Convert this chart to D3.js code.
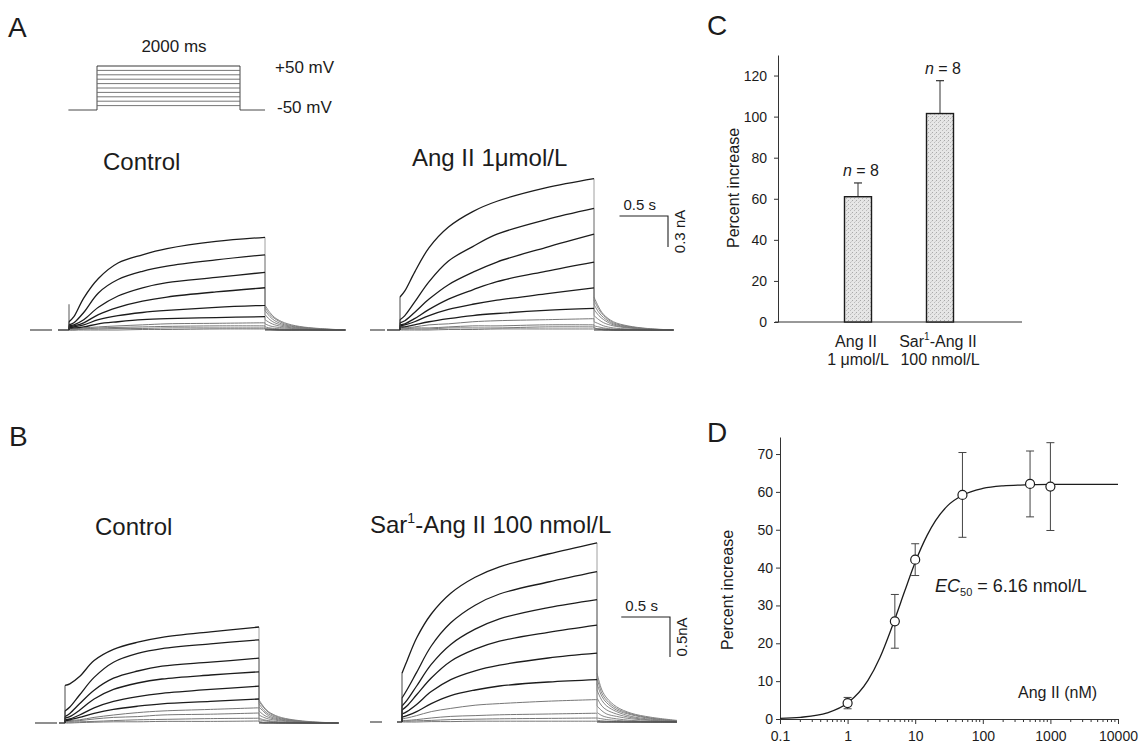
<!DOCTYPE html>
<html><head><meta charset="utf-8">
<script src="https://cdn.jsdelivr.net/npm/d3@7"></script>
<style>
body{margin:0;background:#fff}
svg{display:block}
text{font-family:"Liberation Sans",Arial,sans-serif;fill:#1c1c1c}
</style>
</head><body>
<svg id="fig" width="1139" height="745"></svg>
<script>
// ---------------- DATA ----------------
// Current traces: amplitude (nA) at these times (s) during the 2000 ms pulse
const traceTimes = [0, 0.05, 0.15, 0.3, 0.5, 0.75, 1.0, 1.5, 2.0];
// Tail currents: amplitude (nA) at these times (s) after the pulse
const tailTimes = [0, 0.05, 0.1, 0.2, 0.35, 0.55, 0.82];
const protocolLevels = [-40, -30, -20, -10, 0, 10, 20, 30, 40, 50]; // mV, from -50 mV
const protocolHold = -50;
const pulseDuration = 2.0; // s

const aControlSpike = 0.25; // capacitive transient at pulse onset (nA)
const aControlPulse = [
  [0.08,0.13,0.31,0.50,0.65,0.73,0.79,0.86,0.90],
  [0.05,0.07,0.17,0.36,0.49,0.57,0.62,0.68,0.73],
  [0.04,0.05,0.10,0.22,0.33,0.41,0.46,0.51,0.56],
  [0.03,0.04,0.07,0.15,0.22,0.28,0.32,0.37,0.41],
  [0.02,0.03,0.05,0.10,0.14,0.17,0.19,0.22,0.24],
  [0.02,0.02,0.03,0.06,0.08,0.10,0.11,0.12,0.13],
  [0.01,0.01,0.02,0.03,0.04,0.05,0.06,0.065,0.07],
  [0.01,0.01,0.01,0.02,0.025,0.03,0.035,0.04,0.04],
  [0,0,0.01,0.01,0.015,0.015,0.02,0.02,0.02],
  [0,0,0,0,0,0.005,0.005,0.01,0.01]
];
const aControlTail = [
  [0.24,0.17,0.12,0.07,0.035,0.015,0],
  [0.22,0.15,0.11,0.06,0.03,0.012,0],
  [0.19,0.13,0.09,0.05,0.025,0.01,0],
  [0.15,0.10,0.07,0.04,0.02,0.008,0],
  [0.10,0.07,0.05,0.03,0.015,0.005,0],
  [0.06,0.04,0.03,0.02,0.01,0,0],
  [0.03,0.02,0.015,0.01,0.005,0,0],
  [0.01,0.01,0.005,0,0,0,0],
  [0.01,0.01,0.005,0,0,0,0],
  [0.01,0.005,0,0,0,0,0]
];
const aAngPulse = [
  [0.32,0.38,0.56,0.80,1.00,1.15,1.25,1.38,1.47],
  [0.10,0.14,0.27,0.47,0.67,0.81,0.93,1.07,1.18],
  [0.07,0.09,0.17,0.30,0.44,0.56,0.66,0.80,0.93],
  [0.05,0.06,0.11,0.20,0.30,0.39,0.47,0.57,0.66],
  [0.04,0.05,0.08,0.14,0.20,0.25,0.29,0.35,0.41],
  [0.03,0.03,0.05,0.08,0.11,0.14,0.16,0.19,0.21],
  [0.02,0.02,0.03,0.05,0.06,0.08,0.09,0.10,0.11],
  [0.01,0.01,0.02,0.02,0.03,0.04,0.04,0.05,0.05],
  [0.01,0.01,0.01,0.01,0.02,0.02,0.02,0.03,0.03],
  [0,0,0,0,0.005,0.005,0.01,0.01,0.01]
];
const aAngTail = [
  [0.32,0.22,0.15,0.08,0.04,0.015,0],
  [0.29,0.20,0.14,0.07,0.035,0.012,0],
  [0.25,0.17,0.12,0.06,0.03,0.01,0],
  [0.20,0.14,0.10,0.05,0.025,0.008,0],
  [0.14,0.10,0.07,0.04,0.02,0.005,0],
  [0.08,0.06,0.04,0.02,0.01,0,0],
  [0.04,0.03,0.02,0.01,0.005,0,0],
  [0.02,0.01,0.01,0,0,0,0],
  [0.02,0.01,0.01,0,0,0,0],
  [0.01,0.01,0,0,0,0,0]
];
const bControlPulse = [
  [0.47,0.49,0.58,0.78,0.92,1.01,1.07,1.14,1.20],
  [0.15,0.20,0.35,0.57,0.76,0.87,0.93,0.99,1.04],
  [0.08,0.12,0.24,0.41,0.56,0.65,0.71,0.76,0.81],
  [0.06,0.08,0.16,0.30,0.42,0.50,0.55,0.60,0.64],
  [0.04,0.05,0.10,0.19,0.27,0.33,0.37,0.42,0.46],
  [0.03,0.04,0.07,0.12,0.17,0.21,0.24,0.27,0.30],
  [0.02,0.03,0.04,0.07,0.10,0.13,0.15,0.17,0.19],
  [0.02,0.02,0.03,0.05,0.07,0.08,0.10,0.11,0.125],
  [0.01,0.01,0.015,0.02,0.03,0.04,0.045,0.055,0.06],
  [0,0,0.005,0.01,0.015,0.015,0.02,0.02,0.025]
];
const bControlTail = [
  [0.29,0.20,0.14,0.08,0.04,0.015,0],
  [0.27,0.19,0.13,0.07,0.035,0.012,0],
  [0.24,0.16,0.11,0.06,0.03,0.01,0],
  [0.20,0.14,0.09,0.05,0.025,0.008,0],
  [0.15,0.10,0.07,0.04,0.02,0.005,0],
  [0.10,0.07,0.05,0.03,0.012,0,0],
  [0.06,0.04,0.03,0.015,0.008,0,0],
  [0.04,0.03,0.02,0.01,0,0,0],
  [0.02,0.01,0.01,0,0,0,0],
  [0.01,0,0,0,0,0,0]
];
const bSarPulse = [
  [0.61,0.76,1.05,1.35,1.61,1.81,1.94,2.10,2.24],
  [0.30,0.40,0.62,0.95,1.24,1.46,1.60,1.75,1.88],
  [0.20,0.27,0.45,0.72,0.97,1.16,1.29,1.43,1.53],
  [0.15,0.20,0.34,0.55,0.76,0.91,1.01,1.12,1.21],
  [0.10,0.13,0.22,0.38,0.53,0.64,0.71,0.80,0.86],
  [0.06,0.08,0.13,0.23,0.33,0.40,0.45,0.50,0.53],
  [0.04,0.05,0.08,0.13,0.17,0.21,0.23,0.26,0.28],
  [0.02,0.02,0.03,0.05,0.07,0.08,0.09,0.10,0.11],
  [0.01,0.01,0.015,0.02,0.03,0.035,0.04,0.045,0.05],
  [0,0,0,0.005,0.005,0.01,0.01,0.01,0.01]
];
const bSarTail = [
  [0.61,0.40,0.30,0.19,0.11,0.06,0.02],
  [0.55,0.36,0.27,0.17,0.10,0.05,0.015],
  [0.48,0.32,0.24,0.15,0.09,0.045,0.01],
  [0.40,0.27,0.20,0.13,0.07,0.035,0.01],
  [0.30,0.20,0.15,0.10,0.055,0.025,0.005],
  [0.20,0.14,0.10,0.07,0.04,0.02,0],
  [0.12,0.08,0.06,0.04,0.02,0.01,0],
  [0.05,0.04,0.03,0.02,0.01,0,0],
  [0.02,0.015,0.01,0.005,0,0,0],
  [0.01,0,0,0,0,0,0]
];
const scaleBarA = {time: 0.5, current: 0.3, timeLabel: "0.5 s", currentLabel: "0.3 nA"};
const scaleBarB = {time: 0.5, current: 0.5, timeLabel: "0.5 s", currentLabel: "0.5nA"};

// Panel C
const barLabels = [["Ang II", "1 \u03bcmol/L"], ["Sar|1|-Ang II", "100 nmol/L"]];
const barMeans = [61, 101.5];
const barErrors = [6.7, 16];
const barN = [8, 8];
const yTicksC = [0, 20, 40, 60, 80, 100, 120];

// Panel D
const doseConc = [1, 5, 10, 50, 500, 1000];
const doseMean = [4.2, 25.8, 42.1, 59.2, 62.1, 61.4];
const doseSem = [1.5, 7.1, 4.2, 11.2, 8.7, 11.6];
const fitConc = [0.1,0.2,0.5,1,2,3,5,7,10,15,20,30,50,100,200,500,1000,10000];
const fitResp = [0.16,0.44,1.62,4.2,10.2,16.2,26.4,33.8,41.4,48.5,52.4,56.3,59.1,60.9,61.6,61.9,62,62];
const yTicksD = [0, 10, 20, 30, 40, 50, 60, 70];
const xTicksD = [0.1, 1, 10, 100, 1000, 10000];

// ---------------- DRAW ----------------
const svg = d3.select("#fig");
const ink = "#1c1c1c";

function label(x, y, txt, size, opts = {}) {
  const t = svg.append("text").attr("x", x).attr("y", y)
    .attr("font-size", size).text(txt);
  if (opts.anchor) t.attr("text-anchor", opts.anchor);
  if (opts.italic) t.attr("font-style", "italic");
  return t;
}

// Panel letters
label(8, 37, "A", 28);
label(9, 446, "B", 28);
label(707, 35, "C", 28);
label(707, 442, "D", 28);

// Voltage protocol
(function () {
  const x = d3.scaleLinear().domain([0, pulseDuration]).range([97, 240]);
  const y = d3.scaleLinear().domain([-50, 50]).range([110, 66]);
  const g = svg.append("g").attr("fill", "none").attr("stroke", "#333").attr("stroke-width", 0.9);
  g.append("line").attr("x1", x(-0.4)).attr("x2", x(0)).attr("y1", y(protocolHold)).attr("y2", y(protocolHold));
  g.append("line").attr("x1", x(pulseDuration)).attr("x2", x(pulseDuration + 0.35)).attr("y1", y(protocolHold)).attr("y2", y(protocolHold));
  g.append("line").attr("x1", x(0)).attr("x2", x(0)).attr("y1", y(protocolHold)).attr("y2", y(d3.max(protocolLevels)));
  g.append("line").attr("x1", x(pulseDuration)).attr("x2", x(pulseDuration)).attr("y1", y(protocolHold)).attr("y2", y(d3.max(protocolLevels)));
  g.selectAll("line.lv").data(protocolLevels).join("line").attr("class", "lv")
    .attr("x1", x(0)).attr("x2", x(pulseDuration))
    .attr("y1", d => y(d)).attr("y2", d => y(d))
    .attr("stroke", (d, i) => i === protocolLevels.length - 1 ? "#222" : "#666");
  label(174, 52, "2000 ms", 17, {anchor: "middle"});
  label(275, 73, "+50 mV", 17);
  label(277, 113, "-50 mV", 17);
})();

function tracePanel(layout, pulse, tail, bar, spike) {
  const x = d3.scaleLinear().domain([0, pulseDuration]).range([layout.x0, layout.x1]);
  const y = d3.scaleLinear().domain([0, 1]).range([layout.base, layout.base - layout.pxPerNA]);
  const g = svg.append("g").attr("fill", "none");
  // holding marker
  g.append("line").attr("x1", layout.pre[0]).attr("x2", layout.pre[1])
    .attr("y1", y(0)).attr("y2", y(0)).attr("stroke", "#333").attr("stroke-width", 1.1);
  // baseline before pulse
  g.append("line").attr("x1", layout.start).attr("x2", x(0))
    .attr("y1", y(0)).attr("y2", y(0)).attr("stroke", "#222").attr("stroke-width", 1.3);
  const curve = d3.line().x(d => x(d[0])).y(d => y(d[1])).curve(d3.curveCatmullRom.alpha(0.5));
  const n = pulse.length;
  // tails first (grey bundle)
  for (let i = n - 1; i >= 0; i--) {
    const tp = tailTimes.map((t, k) => [pulseDuration + t, tail[i][k]]);
    g.append("path").attr("d", curve(tp)).attr("stroke", "#777").attr("stroke-width", 0.9);
    g.append("line").attr("x1", x(pulseDuration)).attr("x2", x(pulseDuration))
      .attr("y1", y(pulse[i][pulse[i].length - 1])).attr("y2", y(tail[i][0]))
      .attr("stroke", "#888").attr("stroke-width", 0.8);
  }
  // baseline after tails
  g.append("line").attr("x1", x(pulseDuration)).attr("x2", x(pulseDuration + tailTimes[tailTimes.length - 1]))
    .attr("y1", y(0)).attr("y2", y(0)).attr("stroke", "#333").attr("stroke-width", 1);
  if (spike != null) {
    g.append("line").attr("x1", x(0)).attr("x2", x(0)).attr("y1", y(0)).attr("y2", y(spike))
      .attr("stroke", "#444").attr("stroke-width", 0.9);
  }
  for (let i = n - 1; i >= 0; i--) {
    const pts = traceTimes.map((t, k) => [t, pulse[i][k]]);
    const col = i < 6 ? "#1c1c1c" : "#777";
    g.append("line").attr("x1", x(0)).attr("x2", x(0)).attr("y1", y(0)).attr("y2", y(pulse[i][0]))
      .attr("stroke", "#333").attr("stroke-width", 0.9);
    g.append("path").attr("d", curve(pts)).attr("stroke", col).attr("stroke-width", i < 6 ? 1.3 : 1);
  }
  if (!bar) return;
  // scale bar
  const right = layout.barX, top = layout.barY;
  const len = x(bar.time) - x(0);
  svg.append("path").attr("fill", "none").attr("stroke", "#222").attr("stroke-width", 1.1)
    .attr("d", `M${right - len},${top}H${right}V${top + (y(0) - y(bar.current))}`);
  label(right - len / 2 - 4, top - 6, bar.timeLabel, 15, {anchor: "middle"});
  svg.append("text").attr("font-size", 15).attr("text-anchor", "middle")
    .attr("transform", `translate(${right + 17},${top + (y(0) - y(bar.current)) / 2}) rotate(-90)`)
    .text(bar.currentLabel);
}

tracePanel({x0: 69, x1: 265, base: 330, pxPerNA: 103, pre: [30, 52], start: 58},
  aControlPulse, aControlTail, null, aControlSpike);
tracePanel({x0: 400, x1: 594, base: 330, pxPerNA: 103, pre: [370, 385], start: 387, barX: 668, barY: 216},
  aAngPulse, aAngTail, scaleBarA, null);
tracePanel({x0: 65, x1: 259, base: 723, pxPerNA: 80, pre: [35, 57], start: 59},
  bControlPulse, bControlTail, null, null);
tracePanel({x0: 402, x1: 597, base: 722, pxPerNA: 80, pre: [370, 382], start: 397, barX: 670, barY: 617},
  bSarPulse, bSarTail, scaleBarB, null);

label(103, 170, "Control", 24);
label(412, 166, "Ang II 1\u03bcmol/L", 24);
label(95, 535, "Control", 24);
(function () {
  const t = label(370, 533, "", 24);
  t.append("tspan").text("Sar");
  t.append("tspan").attr("font-size", 14).attr("dy", -10).text("1");
  t.append("tspan").attr("dy", 10).text("-Ang II 100 nmol/L");
})();

// ---------- Panel C ----------
(function () {
  const y = d3.scaleLinear().domain([0, 130]).range([322, 55]);
  const x = d3.scalePoint().domain([0, 1]).range([858, 940]);
  const defs = svg.append("defs");
  const pat = defs.append("pattern").attr("id", "stip").attr("patternUnits", "userSpaceOnUse")
    .attr("width", 4).attr("height", 4);
  pat.append("rect").attr("width", 4).attr("height", 4).attr("fill", "#e6e6e6");
  pat.append("rect").attr("x", 0).attr("y", 0).attr("width", 1).attr("height", 1).attr("fill", "#a8a8a8");
  pat.append("rect").attr("x", 2).attr("y", 2).attr("width", 1).attr("height", 1).attr("fill", "#bcbcbc");
  pat.append("rect").attr("x", 3).attr("y", 1).attr("width", 1).attr("height", 1).attr("fill", "#cfcfcf");

  const ax = svg.append("g").attr("transform", "translate(778,0)")
    .call(d3.axisLeft(y).tickValues(yTicksC).tickSize(4).tickPadding(7).tickSizeOuter(0));
  ax.selectAll("text").attr("font-size", 14).attr("font-family", "Liberation Sans, Arial, sans-serif").attr("fill", ink);
  ax.selectAll("line,path").attr("stroke", "#333");
  svg.append("line").attr("x1", 775).attr("x2", 1022).attr("y1", y(0)).attr("y2", y(0)).attr("stroke", "#333");

  const bw = 27;
  barMeans.forEach((m, i) => {
    const cx = x(i);
    svg.append("line").attr("x1", cx).attr("x2", cx).attr("y1", y(m)).attr("y2", y(m + barErrors[i]))
      .attr("stroke", "#333").attr("stroke-width", 1);
    svg.append("line").attr("x1", cx - 4).attr("x2", cx + 4).attr("y1", y(m + barErrors[i])).attr("y2", y(m + barErrors[i]))
      .attr("stroke", "#333").attr("stroke-width", 1.2);
    svg.append("rect").attr("x", cx - bw / 2).attr("y", y(m)).attr("width", bw).attr("height", y(0) - y(m))
      .attr("fill", "url(#stip)").attr("stroke", "#1c1c1c").attr("stroke-width", 1.4);
    const t = label(cx + 3, y(m + barErrors[i]) - 7, "", 16, {anchor: "middle"});
    t.append("tspan").attr("font-style", "italic").text("n");
    t.append("tspan").text(" = " + barN[i]);
    const l1 = label(cx - 2, 347, "", 16, {anchor: "middle"});
    barLabels[i][0].split("|").forEach((s, k) => {
      const ts = l1.append("tspan").text(s);
      if (k === 1) ts.attr("font-size", 10).attr("dy", -7);
      if (k === 2) ts.attr("dy", 7);
    });
    label(cx, 365, barLabels[i][1], 16, {anchor: "middle"});
  });
  svg.append("text").attr("font-size", 16).attr("text-anchor", "middle")
    .attr("transform", "translate(739,188) rotate(-90)").text("Percent increase");
})();

// ---------- Panel D ----------
(function () {
  const x = d3.scaleLog().domain([0.1, 10000]).range([780, 1118]);
  const y = d3.scaleLinear().domain([0, 74.5]).range([719, 437]);
  const ay = svg.append("g").attr("transform", "translate(780,0)")
    .call(d3.axisLeft(y).tickValues(yTicksD).tickSize(4).tickPadding(3).tickSizeOuter(0));
  const axx = svg.append("g").attr("transform", "translate(0,719)")
    .call(d3.axisBottom(x).tickValues(xTicksD).tickFormat(d => String(d)).tickSize(5).tickPadding(7).tickSizeOuter(0));
  const minor = [];
  for (let p = -1; p < 4; p++) for (let k = 2; k <= 9; k++) minor.push(k * Math.pow(10, p));
  axx.selectAll("line.minor").data(minor).join("line").attr("class", "minor")
    .attr("x1", d => x(d)).attr("x2", d => x(d)).attr("y1", 0).attr("y2", 3).attr("stroke", "#333");
  [ay, axx].forEach(a => {
    a.selectAll("text").attr("font-size", 14).attr("font-family", "Liberation Sans, Arial, sans-serif").attr("fill", ink);
    a.selectAll("line,path").attr("stroke", "#333");
  });
  const fit = d3.line().x((d, i) => x(fitConc[i])).y(d => y(d)).curve(d3.curveMonotoneX);
  svg.append("path").attr("d", fit(fitResp)).attr("fill", "none").attr("stroke", "#1c1c1c").attr("stroke-width", 1.3);
  doseConc.forEach((c, i) => {
    const cx = x(c), lo = y(doseMean[i] - doseSem[i]), hi = y(doseMean[i] + doseSem[i]);
    const g = svg.append("g").attr("stroke", "#444").attr("stroke-width", 1);
    g.append("line").attr("x1", cx).attr("x2", cx).attr("y1", lo).attr("y2", hi);
    g.append("line").attr("x1", cx - 4).attr("x2", cx + 4).attr("y1", lo).attr("y2", lo);
    g.append("line").attr("x1", cx - 4).attr("x2", cx + 4).attr("y1", hi).attr("y2", hi);
    svg.append("circle").attr("cx", cx).attr("cy", y(doseMean[i])).attr("r", 4.5)
      .attr("fill", "#fff").attr("stroke", "#1c1c1c").attr("stroke-width", 1.2);
  });
  svg.append("text").attr("font-size", 16).attr("text-anchor", "middle")
    .attr("transform", "translate(733,590) rotate(-90)").text("Percent increase");
  const ec = label(935, 592, "", 18);
  ec.append("tspan").attr("font-style", "italic").text("EC");
  ec.append("tspan").attr("font-size", 11).attr("dy", 4).text("50");
  ec.append("tspan").attr("dy", -4).text(" = 6.16 nmol/L");
  label(1018, 698, "Ang II (nM)", 16);
})();
</script>
</body></html>
